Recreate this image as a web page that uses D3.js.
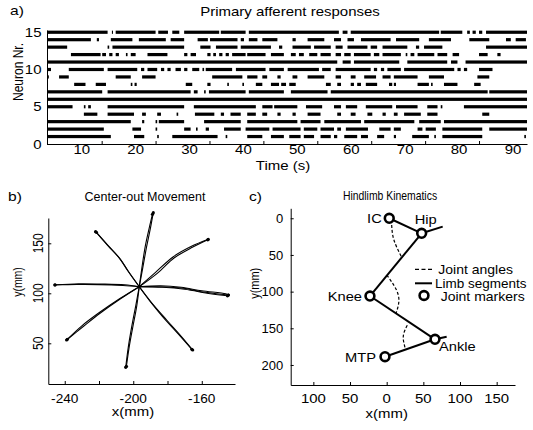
<!DOCTYPE html>
<html lang="en">
<head>
<meta charset="utf-8">
<script src="https://d3js.org/d3.v7.min.js"></script>
<title>Afferent responses and hindlimb kinematics</title>
<style>
    body { margin: 0; background-color: #fff; }
    svg { display: block; font-family: "Liberation Sans", Arial, sans-serif; }
    .axis path, .axis line { stroke: #000; }
</style>
</head>
<body>
<div id="container"></div>
<script>
// ---- a) spike raster, [start, end] in seconds for each neuron ----
var n1  = [[3.6,15.4],[19.7,21.6],[24.0,24.3],[26.8,35.2],[36.7,37.0],[40.7,43.5],[45.1,47.5],[48.5,50.6],[51.2,53.1],[54.3,56.2],[56.8,57.4],[58.7,61.1],[61.8,63.1],[64.8,66.1],[67.9,68.3],[71.3,74.4],[75.4,75.7],[76.9,84.3],[92.1,92.4]];
var n2  = [[3.6,14.1],[19.4,21.0],[23.7,24.0],[29.0,30.2],[31.2,31.5],[33.0,33.6],[36.4,39.5],[40.4,44.8],[45.4,50.6],[51.2,53.7],[54.3,56.8],[57.4,58.1],[59.0,63.1],[65.2,67.3],[67.9,69.2],[72.3,73.2],[73.8,75.7],[76.9,84.3],[85.6,92.6]];
var n3  = [[3.6,19.1],[21.2,21.6],[23.7,24.0],[24.3,29.0],[32.7,39.5],[40.7,50.0],[50.6,54.3],[55.0,61.8],[62.4,71.7],[72.6,76.6],[77.2,92.6]];
var n4  = [[10.4,12.9],[14.8,19.7],[21.2,21.9],[24.0,24.7],[27.6,27.9],[31.0,34.6],[35.8,36.4],[37.6,39.5],[40.7,42.3],[43.5,44.4],[46.3,46.9],[49.1,49.7],[51.9,54.3],[57.4,58.1],[59.9,60.8],[63.0,63.9],[65.8,66.4],[67.9,68.6],[69.8,72.9],[74.1,76.0],[84.3,85.6]];
var n5  = [[3.6,8.3],[10.4,10.7],[11.2,11.7],[14.8,29.0],[30.8,42.3],[43.5,45.4],[45.7,50.0],[51.6,54.6],[56.8,58.1],[59.0,61.1],[62.7,67.6],[68.3,72.3],[74.1,76.0],[76.6,76.9],[80.9,92.6]];
var n6  = [[3.6,92.6]];
var n7  = [[3.6,13.8],[14.8,30.2],[30.8,31.5],[32.7,33.0],[33.6,40.4],[41.0,47.5],[48.8,55.6],[56.2,85.3],[85.6,92.6]];
var n8  = [[8.6,10.7],[12.6,14.5],[19.1,19.4],[19.8,20.2],[29.3,30.5],[33.3,33.9],[37.0,37.3],[39.8,40.1],[42.3,43.5],[45.1,46.6],[47.0,47.9],[48.5,49.7],[55.3,56.2],[57.4,58.1],[59.9,60.5],[61.1,61.8],[62.7,64.8],[67.0,67.6],[67.9,68.3],[72.3,74.4],[74.8,75.1],[77.2,79.7],[82.8,84.0]];
var n9  = [[3.6,3.9],[5.8,7.6],[16.3,19.1],[21.2,23.7],[34.2,39.8],[40.7,42.6],[43.5,44.4],[46.3,46.9],[49.1,50.0],[51.9,55.0],[57.1,58.1],[59.9,60.8],[62.4,64.6],[65.8,67.3],[67.9,72.3],[74.4,77.2],[83.4,85.6]];
var n10 = [[3.6,4.3],[7.6,14.1],[14.8,20.3],[21.0,21.6],[22.2,24.0],[24.7,25.3],[25.9,26.5],[27.4,28.4],[29.0,29.6],[30.5,31.8],[32.4,32.7],[33.0,37.9],[38.6,44.1],[44.8,47.5],[48.2,54.0],[54.6,56.2],[57.1,63.6],[64.2,64.8],[65.5,66.1],[66.7,69.2],[69.8,79.1],[79.7,80.3],[80.9,81.5],[83.7,86.2]];
var n11 = [[3.6,57.4],[58.4,59.9],[60.5,68.9],[70.4,77.8],[78.5,79.7],[81.2,92.6]];
var n12 = [[8.0,13.5],[13.8,14.5],[15.1,15.7],[16.3,16.9],[18.2,18.5],[19.1,20.0],[22.2,25.9],[29.0,29.6],[30.2,31.2],[33.3,33.9],[34.4,34.9],[35.5,36.1],[36.7,37.3],[37.9,40.4],[40.7,44.1],[45.1,47.5],[48.8,49.7],[50.3,51.2],[52.2,53.7],[54.3,56.2],[57.1,58.1],[58.7,59.9],[60.5,63.6],[64.2,65.2],[65.8,69.2],[70.1,70.4],[71.0,71.7],[72.3,75.4],[76.0,77.8],[78.8,80.0],[83.7,85.3],[87.1,87.7]];
var n13 = [[3.6,7.3],[14.8,15.1],[15.7,29.0],[32.0,33.9],[34.9,38.9],[39.5,45.1],[46.6,47.2],[49.1,52.5],[53.1,56.2],[57.1,58.4],[59.3,63.0],[63.6,64.8],[65.8,70.4],[72.0,72.6],[73.5,76.9],[85.0,92.6]];
var n14 = [[3.6,11.7],[12.8,13.2],[15.4,19.4],[20.6,25.6],[26.5,29.0],[31.5,33.4],[33.8,38.9],[39.5,40.1],[41.0,42.6],[43.5,46.3],[49.1,49.7],[51.9,55.0],[56.8,58.1],[59.3,60.5],[61.8,67.3],[68.3,72.6],[74.4,78.5],[81.9,85.6],[88.7,89.6],[90.5,92.4]];
var n15 = [[3.6,14.8],[15.6,15.8],[16.3,23.7],[24.2,26.0],[26.8,28.1],[29.0,35.5],[35.8,40.4],[41.0,57.7],[58.4,59.3],[59.9,76.3],[76.6,80.6],[81.5,82.0],[82.5,83.1],[83.7,84.3],[85.0,92.6]];
var spikeTrains = [n1, n2, n3, n4, n5, n6, n7, n8, n9, n10, n11, n12, n13, n14, n15];

var timeLabels = [10, 20, 30, 40, 50, 60, 70, 80, 90];
var timeTickMarks = [13.7, 23.7, 33.7, 43.7, 53.7, 63.7, 73.7, 83.7];
var neuronTicks = [0, 5, 10, 15];

// ---- b) center-out hand traces [x mm, y mm], two repetitions per target ----
var reachN  = [[[-196.5,106.6],[-194.5,125],[-192.2,146.6],[-190,165],[-188.3,180.6]],
               [[-196.5,106.6],[-195,125],[-193,147],[-190.6,166],[-188.8,179]]];
var reachNE = [[[-196.5,106.6],[-187,121],[-176.6,136.6],[-166,147],[-156.2,154]],
               [[-196.5,106.6],[-186,120],[-176,135.5],[-165.5,146],[-156.5,153.5]]];
var reachE  = [[[-196.5,106.6],[-185,106.5],[-170.8,105],[-158,101],[-144.5,98.3]],
               [[-196.5,106.6],[-184,107.5],[-172,106],[-160,102.5],[-146,99.5],[-144.5,98.3]],
               [[-196.5,106.6],[-183,106],[-170,104],[-155,99.5],[-145,97.5]]];
var reachSE = [[[-196.5,106.6],[-190,92],[-180.5,73.3],[-172,57],[-165.3,43.3]],
               [[-196.5,106.6],[-191,94],[-183,77],[-173.5,59],[-165.8,44]]];
var reachS  = [[[-196.5,106.6],[-198.5,88],[-200.9,66.6],[-203,45],[-204.4,26]],
               [[-196.5,106.6],[-198,87],[-200.3,66],[-202.5,45],[-204,27]]];
var reachSW = [[[-196.5,106.6],[-207,95],[-219.4,80],[-229,67],[-238.9,53.3]],
               [[-196.5,106.6],[-208,94.5],[-220,80.5],[-230,67.5],[-238.5,54]]];
var reachW  = [[[-196.5,106.6],[-205,108.5],[-219.4,109.3],[-232,109.5],[-245.7,108.3]],
               [[-196.5,106.6],[-206,107.8],[-220,108.7],[-233,108.8],[-245.7,108.5]]];
var reachNW = [[[-196.5,106.6],[-203,122],[-208,135],[-215,148],[-222,161.6]],
               [[-196.5,106.6],[-202.5,121],[-207.5,134],[-214.5,147.5],[-221.5,161]]];
var reaches = [reachN, reachNE, reachE, reachSE, reachS, reachSW, reachW, reachNW];

var handXTicks = [-240, -220, -200, -180, -160];
var handXLabels = [-240, -200, -160];
var handYTicks = [50, 100, 150];

// ---- c) hindlimb joints [x mm, y mm] ----
var jointNames = ["IC", "Hip", "Knee", "Ankle", "MTP"];
var jointX = [3.5, 47.7, -22.8, 65.9, -2.3];
var jointY = [0, 20.5, 106, 165, 188.7];
var hipStub = [76.4, 11.4];
var ankleStub = [81.8, 161.4];
var angleHip   = [[6.8, 9.1], [9.9, 29.6], [20.5, 53.2]];
var angleKnee  = [[0, 77.3], [15.9, 104.8], [12.7, 129.8]];
var angleAnkle = [[28.1, 145.9], [22.7, 160.4], [25, 176.3]];
var limbXTicks = [-100, -50, 0, 50, 100, 150];
var limbYTicks = [0, 50, 100, 150, 200];

var svg = d3.select("#container")
    .append("svg")
    .attr("width", 533)
    .attr("height", 430);

// text helper, the figure's lettering is a bit stretched sideways
function addText(g, x, y, str, size, anchor, sx, rot) {
    var tr = "translate(" + x + "," + y + ") scale(" + sx + ",1)";
    if (rot) tr += " rotate(" + rot + ")";
    return g.append("text")
        .attr("transform", tr)
        .attr("text-anchor", anchor)
        .style("font-size", size + "px")
        .style("fill", "#000")
        .text(str);
}

// ================= a) =================
var gA = svg.append("g");
var xA = d3.scaleLinear().domain([3.56, 92.6]).range([47, 527]);
var yA = d3.scaleLinear().domain([0, 15.3]).range([144, 30]);

spikeTrains.forEach(function(row, i) {
    var n = i + 1;
    gA.append("g").selectAll("rect")
        .data(row)
        .enter()
        .append("rect")
        .attr("x", function(d) { return xA(d[0]); })
        .attr("width", function(d) { return Math.max(1, xA(d[1]) - xA(d[0])); })
        .attr("y", yA(n) - 1.6)
        .attr("height", 3.2)
        .style("fill", "#000");
});

gA.append("g").attr("class", "axis")
    .attr("transform", "translate(0," + yA(0) + ")")
    .call(d3.axisBottom(xA).tickValues(timeTickMarks).tickSize(-3).tickSizeOuter(0).tickFormat(""));
gA.append("g").attr("class", "axis")
    .attr("transform", "translate(" + xA.range()[0] + ",0)")
    .call(d3.axisLeft(yA).tickValues(neuronTicks).tickSize(-3).tickSizeOuter(0).tickFormat(""));

timeLabels.forEach(function(v) { addText(gA, xA(v), 154, v, 12.5, "middle", 1.2); });
neuronTicks.forEach(function(v) { addText(gA, 41.5, yA(v) + 4.5, v, 12.5, "end", 1.2); });
addText(gA, 283, 170, "Time (s)", 12.5, "middle", 1.2);
addText(gA, 23, 72, "Neuron Nr.", 12, "middle", 1.2, -90);
addText(gA, 290, 16.3, "Primary afferent responses", 12.5, "middle", 1.2);
addText(gA, 10, 14.5, "a)", 13, "start", 1.2);

// ================= b) =================
var gB = svg.append("g");
var xB = d3.scaleLinear().domain([-249.6, -140.6]).range([48.3, 235]);
var yB = d3.scaleLinear().domain([9.3, 175.3]).range([384, 218]);
var trace = d3.line()
    .x(function(d) { return xB(d[0]); })
    .y(function(d) { return yB(d[1]); })
    .curve(d3.curveCatmullRom);

reaches.forEach(function(dir) {
    dir.forEach(function(t) {
        gB.append("path")
            .attr("d", trace(t))
            .style("fill", "none")
            .style("stroke", "#000")
            .style("stroke-width", 1.1);
        var end = t[t.length - 1];
        gB.append("circle")
            .attr("cx", xB(end[0]))
            .attr("cy", yB(end[1]))
            .attr("r", 1.6)
            .style("fill", "#000");
    });
});

gB.append("g").attr("class", "axis")
    .attr("transform", "translate(0,384)")
    .call(d3.axisBottom(xB).tickValues(handXTicks).tickSize(-3).tickSizeOuter(0).tickFormat(""));
gB.append("g").attr("class", "axis")
    .attr("transform", "translate(" + xB.range()[0] + ",0)")
    .call(d3.axisLeft(yB).tickValues(handYTicks).tickSize(-3).tickSizeOuter(0).tickFormat(""));

handXLabels.forEach(function(v) { addText(gB, xB(v), 402.5, v, 13, "middle", 1.05); });
handYTicks.forEach(function(v) { addText(gB, 43, yB(v), v, 12, "middle", 1.2, -90); });
addText(gB, 133, 416, "x(mm)", 13, "middle", 1.15);
addText(gB, 22, 282, "y(mm)", 10.5, "middle", 1.2, -90);
addText(gB, 145, 201, "Center-out Movement", 12.5, "middle", 1);
addText(gB, 8, 201, "b)", 13, "start", 1.2);

// ================= c) =================
var gC = svg.append("g");
var xC = d3.scaleLinear().domain([-130.9, 175]).range([290.7, 515]);
var yC = d3.scaleLinear().domain([-13.6, 227.3]).range([208.3, 385]);
var jx = function(i) { return xC(jointX[i]); };
var jy = function(i) { return yC(jointY[i]); };
var arc = d3.line()
    .x(function(d) { return xC(d[0]); })
    .y(function(d) { return yC(d[1]); })
    .curve(d3.curveNatural);

[angleHip, angleKnee, angleAnkle].forEach(function(a) {
    gC.append("path")
        .attr("d", arc(a))
        .style("fill", "none")
        .style("stroke", "#000")
        .style("stroke-width", 1.2)
        .style("stroke-dasharray", "3,2");
});

var segs = [
    [[jointX[0], jointY[0]], [jointX[1], jointY[1]]],
    [[jointX[1], jointY[1]], hipStub],
    [[jointX[1], jointY[1]], [jointX[2], jointY[2]]],
    [[jointX[2], jointY[2]], [jointX[3], jointY[3]]],
    [[jointX[3], jointY[3]], ankleStub],
    [[jointX[3], jointY[3]], [jointX[4], jointY[4]]]
];
gC.selectAll(".seg")
    .data(segs)
    .enter()
    .append("line")
    .attr("x1", function(d) { return xC(d[0][0]); })
    .attr("y1", function(d) { return yC(d[0][1]); })
    .attr("x2", function(d) { return xC(d[1][0]); })
    .attr("y2", function(d) { return yC(d[1][1]); })
    .style("stroke", "#000")
    .style("stroke-width", 2);

gC.selectAll(".joint")
    .data(jointNames)
    .enter()
    .append("circle")
    .attr("cx", function(d, i) { return jx(i); })
    .attr("cy", function(d, i) { return jy(i); })
    .attr("r", 4.4)
    .style("fill", "#fff")
    .style("stroke", "#000")
    .style("stroke-width", 2.6);

// joint labels: [dx, dy, anchor]
var labelPos = [[-7.5, 4.7, "end"], [4, -9, "middle"], [-8, 4.5, "end"], [4, 11.3, "start"], [-9, 5, "end"]];
jointNames.forEach(function(name, i) {
    var p = labelPos[i];
    addText(gC, jx(i) + p[0], jy(i) + p[1], name, 13, p[2], 1.13);
});

gC.append("g").attr("class", "axis")
    .attr("transform", "translate(0,385)")
    .call(d3.axisBottom(xC).tickValues(limbXTicks).tickSize(-3).tickSizeOuter(0).tickFormat(""));
gC.append("g").attr("class", "axis")
    .attr("transform", "translate(" + xC.range()[0] + ",0)")
    .call(d3.axisLeft(yC).tickValues(limbYTicks).tickSize(-3).tickSizeOuter(0).tickFormat(""));

limbXTicks.forEach(function(v) { addText(gC, xC(v), 402.7, Math.abs(v), 13, "middle", 1.15); });
limbYTicks.forEach(function(v) { addText(gC, 283.3, yC(v) + 4.6, v, 13, "end", 1); });
addText(gC, 386.7, 418, "x(mm)", 13, "middle", 1.15);
addText(gC, 258.5, 283.3, "y(mm)", 11, "middle", 1.1, -90);
addText(gC, 390, 200, "Hindlimb Kinematics", 13, "middle", 0.8);
addText(gC, 249, 201, "c)", 13, "start", 1.2);

// legend
gC.append("line").attr("x1", 415).attr("x2", 432).attr("y1", 269.3).attr("y2", 269.3)
    .style("stroke", "#000").style("stroke-width", 1.2).style("stroke-dasharray", "4,2.5");
gC.append("line").attr("x1", 415).attr("x2", 432).attr("y1", 283.3).attr("y2", 283.3)
    .style("stroke", "#000").style("stroke-width", 2);
gC.append("circle").attr("cx", 424).attr("cy", 295.5).attr("r", 4.4)
    .style("fill", "#fff").style("stroke", "#000").style("stroke-width", 2.6);
addText(gC, 438.3, 274, "Joint angles", 12.5, "start", 1.12);
addText(gC, 435, 287.5, "Limb segments", 12.5, "start", 1.08);
addText(gC, 440.7, 300.5, "Joint markers", 12.5, "start", 1.12);
</script>
</body>
</html>
